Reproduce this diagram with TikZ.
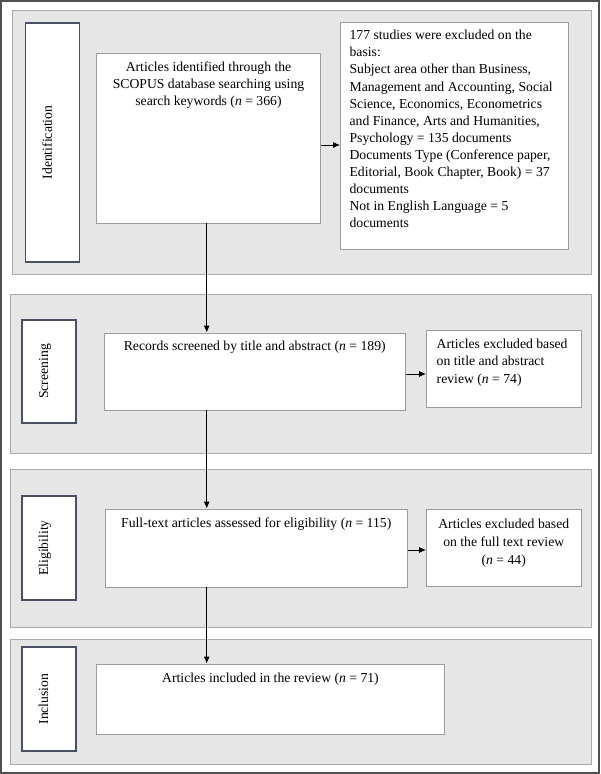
\documentclass[tikz,border=0pt]{standalone}
\usepackage{fontspec}
\setmainfont{Liberation Serif}
\usetikzlibrary{arrows.meta,fit}
\definecolor{bandfill}{HTML}{E6E6E6}
\definecolor{banddraw}{HTML}{A8A8B0}
\definecolor{labdraw}{HTML}{4B4F62}
\definecolor{boxdraw}{HTML}{9C9C9C}
\definecolor{framedraw}{HTML}{505050}
\tikzset{
  band/.style={draw=banddraw, fill=bandfill, line width=1pt, inner sep=0pt},
  labbox/.style={draw=labdraw, fill=white, line width=1.6pt, inner sep=0pt},
  wbox/.style={draw=boxdraw, fill=white, line width=0.9pt, inner sep=0pt},
  labtxt/.style={rotate=90, anchor=base, inner sep=0pt},
  txt/.style={inner sep=0pt},
  arr/.style={-{Latex[length=7pt,width=6pt]}, line width=0.9pt, black},
}
\begin{document}
\begin{tikzpicture}[x=1pt,y=-1pt,font=\fontsize{13.7}{17.1}\selectfont]
\useasboundingbox (0,0) rectangle (600,774);
\node[draw=framedraw, line width=2.5pt, fit={(1.2,1.2) (598.8,772.8)}, inner sep=0pt] (frame) {};
% bands
\node[band, fit={(12.5,10) (591,274)}] (bandI) {};
\node[band, fit={(10,294) (591,453)}] (bandS) {};
\node[band, fit={(10,469) (591,627)}] (bandE) {};
\node[band, fit={(10,639) (591,764)}] (bandN) {};
% label boxes
\node[labbox, fit={(25.5,23) (79.5,262)}] (labI) {};
\node[labbox, fit={(22,320) (76,423)}] (labS) {};
\node[labbox, fit={(22,496) (76,600)}] (labE) {};
\node[labbox, fit={(22,647) (76,751)}] (labN) {};
\node[labtxt] (labIt) at ([xshift=-0.6pt]labI.center) {Identification};
\node[labtxt] (labSt) at ([xshift=-1pt]labS.center) {Screening};
\node[labtxt] (labEt) at ([xshift=-1pt]labE.center) {Eligibility};
\node[labtxt] (labNt) at ([xshift=-1pt]labN.center) {Inclusion};
% white boxes
\node[wbox, fit={(96.5,53) (320.5,223)}] (A1) {};
\node[wbox, fit={(340.5,22) (568,249)}] (X1) {};
\node[wbox, fit={(104,333) (405.5,410)}] (A2) {};
\node[wbox, fit={(426.5,330) (581,407)}] (X2) {};
\node[wbox, fit={(105,509) (407.5,587)}] (A3) {};
\node[wbox, fit={(426.5,509) (581,586)}] (X3) {};
\node[wbox, fit={(96.5,664) (444.5,734)}] (A4) {};
% texts
\node[txt, anchor=north, align=center, font=\fontsize{13.7}{16.8}\selectfont] (A1t) at (A1.north |- 0,61.8)
  {Articles identified through the\\SCOPUS database searching using\\search keywords (\textit{n} = 366)};
\node[txt, anchor=north west, align=left] (X1t) at (349.4,30)
  {177 studies were excluded on the\\basis:\\Subject area other than Business,\\Management and Accounting, Social\\Science, Economics, Econometrics\\and Finance, Arts and Humanities,\\Psychology = 135 documents\\Documents Type (Conference paper,\\Editorial, Book Chapter, Book) = 37\\documents\\Not in English Language = 5\\documents};
\node[txt, anchor=north, align=center] (A2t) at (A2.north |- 0,340.8)
  {Records screened by title and abstract (\textit{n} = 189)};
\node[txt, anchor=north west, align=left, font=\fontsize{13.7}{17.5}\selectfont] (X2t) at (436.5,338.4)
  {Articles excluded based\\on title and abstract\\review (\textit{n} = 74)};
\node[txt, anchor=north, align=center] (A3t) at (A3.north |- 0,517.8)
  {Full-text articles assessed for eligibility (\textit{n} = 115)};
\node[txt, anchor=north, align=center, font=\fontsize{13.7}{18}\selectfont] (X3t) at (X3.north |- 0,518.4)
  {Articles excluded based\\on the full text review\\(\textit{n} = 44)};
\node[txt, anchor=north, align=center] (A4t) at (A4.north |- 0,672.4)
  {Articles included in the review (\textit{n} = 71)};
% connectors
\draw[arr] ([xshift=-1.8pt]A1.south) -- ([xshift=-1.8pt]A1.south |- A2.north);
\draw[arr] ([xshift=-1.8pt]A1.south |- A2.south) -- ([xshift=-1.8pt]A1.south |- A3.north);
\draw[arr] ([xshift=-1.8pt]A1.south |- A3.south) -- ([xshift=-1.8pt]A1.south |- A4.north);
\draw[arr] (A1.east |- 0,145) -- (X1.west |- 0,145);
\draw[arr] (A2.east |- 0,374) -- (X2.west |- 0,374);
\draw[arr] (A3.east |- 0,550) -- (X3.west |- 0,550);
\end{tikzpicture}
\end{document}
